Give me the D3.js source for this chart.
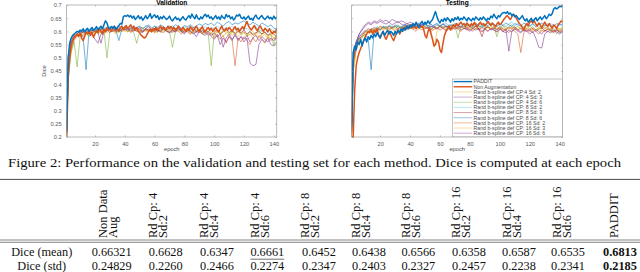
<!DOCTYPE html>
<html><head><meta charset="utf-8">
<script src="https://cdn.jsdelivr.net/npm/d3@7/dist/d3.min.js"></script>
<style>body{margin:0;background:#fff}svg{display:block}</style>
</head><body>
<svg id="c" width="640" height="272"></svg>
<script>
// ---------- DATA ----------
const epochs = d3.range(1, 143);
const thinEpochs = [1].concat(d3.range(2, 143, 2));
const xTicks = [20, 40, 60, 80, 100, 120, 140];
const yTicks = [0.2, 0.25, 0.3, 0.35, 0.4, 0.45, 0.5, 0.55, 0.6, 0.65, 0.7];
const yTickLabels = ["0.2","0.25","0.3","0.35","0.4","0.45","0.5","0.55","0.6","0.65","0.7"];
const legendNames = ["PADDIT","Non Augmentation","Rand b-spline def  CP:4 Sd: 2","Rand b-spline def CP: 4 Sd: 3","Rand b-spline def CP: 4 Sd: 6","Rand b-spline def CP: 8 Sd: 2","Rand b-spline def CP: 8 Sd: 3","Rand b-spline def CP: 8 Sd: 6","Rand b-spline def CP: 16 Sd: 2","Rand b-spline def CP: 16 Sd: 3","Rand b-spline def CP: 16 Sd: 6"];
const seriesColors = ["#0072BD","#D95319","#EDB120","#7E2F8E","#77AC30","#4DBEEE","#A2142F","#0072BD","#D95319","#EDB120","#7E2F8E"];

const valPADDIT = [0.22,0.50,0.555,0.575,0.585,0.59,0.595,0.60,0.598,0.605,
0.60,0.61,0.598,0.605,0.612,0.60,0.608,0.615,0.603,0.61,
0.618,0.606,0.613,0.62,0.61,0.625,0.64,0.632,0.615,0.61,
0.618,0.612,0.62,0.608,0.615,0.622,0.63,0.628,0.655,0.66,
0.657,0.662,0.655,0.66,0.65,0.658,0.645,0.652,0.66,0.648,
0.655,0.642,0.65,0.66,0.648,0.655,0.668,0.65,0.657,0.663,
0.652,0.66,0.645,0.655,0.648,0.658,0.652,0.645,0.65,0.658,
0.645,0.64,0.648,0.655,0.645,0.65,0.64,0.648,0.656,0.647,
0.643,0.652,0.66,0.65,0.666,0.655,0.648,0.663,0.65,0.645,
0.655,0.648,0.658,0.665,0.655,0.662,0.65,0.655,0.645,0.652,
0.66,0.648,0.655,0.645,0.66,0.652,0.648,0.664,0.655,0.66,
0.648,0.655,0.643,0.65,0.662,0.658,0.665,0.652,0.648,0.655,
0.645,0.652,0.658,0.645,0.65,0.642,0.655,0.662,0.65,0.647,
0.655,0.66,0.65,0.645,0.652,0.658,0.648,0.653,0.645,0.658,
0.648,0.655];
const valNonAug = [0.20,0.42,0.50,0.55,0.57,0.58,0.585,0.59,0.58,0.595,
0.575,0.565,0.58,0.598,0.59,0.60,0.585,0.598,0.578,0.59,
0.605,0.595,0.61,0.60,0.59,0.61,0.598,0.615,0.605,0.612,
0.60,0.61,0.618,0.605,0.612,0.60,0.615,0.62,0.608,0.615,
0.622,0.61,0.618,0.625,0.612,0.62,0.605,0.615,0.60,0.595,
0.585,0.58,0.575,0.578,0.59,0.60,0.608,0.598,0.61,0.603,
0.615,0.605,0.612,0.62,0.608,0.615,0.605,0.612,0.62,0.61,
0.618,0.608,0.615,0.605,0.612,0.62,0.61,0.605,0.615,0.608,
0.60,0.612,0.605,0.618,0.61,0.602,0.612,0.62,0.608,0.60,
0.61,0.618,0.605,0.598,0.61,0.615,0.605,0.612,0.60,0.608,
0.615,0.605,0.598,0.61,0.62,0.608,0.602,0.612,0.605,0.615,
0.608,0.60,0.61,0.618,0.605,0.612,0.60,0.61,0.618,0.608,
0.625,0.638,0.62,0.612,0.605,0.615,0.622,0.61,0.602,0.615,
0.62,0.608,0.60,0.612,0.605,0.598,0.61,0.60,0.592,0.60,
0.595,0.612];
const valCP4Sd2 = [0.21,0.46,0.56,0.58,0.59,0.595,0.585,0.6,0.59,0.605,0.595,0.61,
0.6,0.59,0.605,0.612,0.6,0.608,0.595,0.61,0.605,0.615,0.6,0.61,
0.598,0.608,0.615,0.6,0.612,0.605,0.595,0.61,0.6,0.615,0.605,0.598,
0.61,0.602,0.612,0.595,0.605,0.6,0.59,0.608,0.598,0.605,0.592,0.6,
0.61,0.595,0.585,0.6,0.59,0.605,0.595,0.58,0.598,0.59,0.6,0.585,
0.595,0.58,0.59,0.6,0.585,0.575,0.59,0.598,0.58,0.59,0.575,0.585];
const valCP4Sd3 = [0.23,0.44,0.53,0.57,0.585,0.59,0.6,0.595,0.605,0.59,0.57,0.555,
0.59,0.605,0.6,0.612,0.598,0.61,0.62,0.605,0.61,0.6,0.615,0.605,
0.61,0.6,0.595,0.61,0.605,0.6,0.612,0.598,0.605,0.61,0.6,0.595,
0.605,0.598,0.61,0.6,0.59,0.605,0.6,0.595,0.58,0.6,0.59,0.585,
0.595,0.58,0.57,0.585,0.55,0.575,0.56,0.58,0.565,0.59,0.57,0.58,
0.56,0.575,0.48,0.47,0.475,0.55,0.57,0.56,0.575,0.55,0.545,0.56];
const valCP4Sd6 = [0.2,0.42,0.52,0.56,0.465,0.58,0.59,0.595,0.58,0.6,0.59,0.6,
0.595,0.605,0.5,0.6,0.61,0.595,0.605,0.6,0.612,0.598,0.605,0.595,
0.555,0.6,0.605,0.61,0.598,0.605,0.6,0.61,0.595,0.605,0.6,0.598,
0.54,0.6,0.605,0.598,0.61,0.6,0.605,0.595,0.6,0.608,0.598,0.6,
0.59,0.47,0.595,0.6,0.59,0.598,0.605,0.59,0.6,0.595,0.605,0.59,
0.598,0.585,0.6,0.59,0.595,0.605,0.59,0.598,0.585,0.59,0.545,0.6];
const valCP8Sd2 = [0.24,0.5,0.56,0.585,0.595,0.6,0.605,0.61,0.6,0.612,0.605,0.615,
0.608,0.618,0.61,0.62,0.612,0.605,0.618,0.61,0.622,0.615,0.608,0.62,
0.612,0.618,0.61,0.622,0.615,0.608,0.62,0.612,0.618,0.61,0.605,0.615,
0.62,0.61,0.615,0.608,0.618,0.612,0.62,0.61,0.605,0.615,0.61,0.618,
0.608,0.615,0.61,0.62,0.612,0.605,0.615,0.61,0.62,0.608,0.612,0.605,
0.615,0.61,0.605,0.612,0.618,0.608,0.6,0.612,0.605,0.61,0.6,0.608];
const valCP8Sd3 = [0.22,0.47,0.55,0.575,0.59,0.585,0.6,0.595,0.59,0.605,0.6,0.595,
0.61,0.6,0.605,0.595,0.61,0.615,0.6,0.608,0.615,0.605,0.61,0.6,
0.615,0.605,0.598,0.61,0.62,0.605,0.612,0.6,0.61,0.618,0.605,0.612,
0.6,0.61,0.615,0.605,0.598,0.61,0.605,0.615,0.6,0.608,0.595,0.605,
0.598,0.61,0.6,0.605,0.59,0.6,0.61,0.595,0.605,0.59,0.6,0.595,
0.605,0.59,0.6,0.585,0.595,0.6,0.59,0.598,0.585,0.595,0.59,0.58];
const valCP8Sd6 = [0.25,0.51,0.57,0.59,0.6,0.595,0.58,0.455,0.6,0.605,0.61,0.6,
0.612,0.605,0.615,0.61,0.62,0.605,0.565,0.61,0.618,0.612,0.62,0.61,
0.615,0.62,0.61,0.618,0.625,0.612,0.62,0.615,0.625,0.618,0.61,0.62,
0.615,0.625,0.62,0.612,0.622,0.618,0.625,0.615,0.62,0.628,0.622,0.63,
0.625,0.632,0.622,0.635,0.628,0.62,0.632,0.638,0.625,0.632,0.628,0.635,
0.64,0.63,0.625,0.635,0.628,0.62,0.632,0.625,0.618,0.625,0.612,0.608];
const valCP16Sd2 = [0.21,0.45,0.54,0.57,0.585,0.59,0.58,0.595,0.6,0.59,0.605,0.598,
0.605,0.595,0.61,0.6,0.605,0.598,0.61,0.6,0.605,0.61,0.595,0.605,
0.6,0.61,0.598,0.605,0.6,0.61,0.595,0.605,0.6,0.595,0.608,0.6,
0.595,0.605,0.6,0.59,0.605,0.598,0.59,0.6,0.595,0.605,0.59,0.6,
0.585,0.595,0.575,0.59,0.57,0.585,0.555,0.58,0.57,0.47,0.575,0.56,
0.58,0.565,0.55,0.575,0.56,0.585,0.57,0.555,0.58,0.565,0.575,0.57];
const valCP16Sd3 = [0.2,0.43,0.53,0.565,0.58,0.59,0.595,0.585,0.6,0.595,0.605,0.59,
0.6,0.61,0.595,0.605,0.6,0.59,0.605,0.61,0.6,0.598,0.605,0.612,
0.6,0.608,0.615,0.6,0.605,0.612,0.6,0.595,0.608,0.6,0.612,0.605,
0.598,0.61,0.6,0.605,0.612,0.6,0.595,0.605,0.61,0.6,0.595,0.605,
0.6,0.59,0.605,0.595,0.6,0.58,0.595,0.6,0.585,0.595,0.58,0.59,
0.6,0.585,0.59,0.575,0.59,0.595,0.58,0.59,0.57,0.585,0.59,0.575];
const valCP16Sd6 = [0.22,0.48,0.555,0.58,0.59,0.6,0.595,0.605,0.6,0.61,0.6,0.595,
0.555,0.6,0.612,0.605,0.615,0.6,0.61,0.618,0.605,0.612,0.6,0.61,
0.605,0.615,0.6,0.61,0.605,0.598,0.612,0.605,0.6,0.61,0.602,0.595,
0.605,0.598,0.61,0.6,0.595,0.605,0.598,0.59,0.6,0.595,0.605,0.59,
0.6,0.585,0.595,0.58,0.59,0.54,0.575,0.59,0.57,0.585,0.565,0.58,
0.57,0.585,0.56,0.575,0.585,0.565,0.58,0.57,0.56,0.575,0.565,0.58];

const testPADDIT = [0.24,0.52,0.545,0.53,0.56,0.55,0.57,0.545,0.565,0.575,
0.56,0.58,0.57,0.585,0.575,0.59,0.58,0.595,0.585,0.575,
0.59,0.60,0.585,0.595,0.605,0.59,0.60,0.595,0.585,0.60,
0.59,0.605,0.595,0.61,0.60,0.615,0.605,0.62,0.61,0.625,
0.615,0.63,0.62,0.635,0.625,0.615,0.63,0.638,0.625,0.635,
0.628,0.64,0.63,0.638,0.645,0.66,0.675,0.655,0.64,0.632,
0.645,0.638,0.65,0.64,0.652,0.645,0.635,0.648,0.64,0.652,
0.645,0.655,0.642,0.65,0.645,0.655,0.648,0.64,0.652,0.645,
0.64,0.65,0.643,0.655,0.648,0.642,0.652,0.645,0.655,0.648,
0.64,0.65,0.645,0.658,0.652,0.665,0.655,0.648,0.66,0.655,
0.665,0.67,0.672,0.668,0.675,0.665,0.67,0.66,0.665,0.655,
0.66,0.652,0.645,0.652,0.66,0.648,0.64,0.648,0.635,0.642,
0.65,0.638,0.645,0.652,0.64,0.648,0.655,0.645,0.652,0.66,
0.648,0.655,0.665,0.66,0.668,0.685,0.69,0.685,0.69,0.695,
0.693,0.70];
const testNonAug = [0.20,0.20,0.38,0.47,0.50,0.52,0.535,0.55,0.565,0.58,
0.59,0.60,0.595,0.605,0.59,0.605,0.595,0.61,0.585,0.575,
0.59,0.60,0.58,0.57,0.585,0.60,0.59,0.575,0.565,0.58,
0.595,0.605,0.59,0.60,0.612,0.605,0.618,0.61,0.62,0.612,
0.625,0.615,0.622,0.61,0.618,0.625,0.615,0.62,0.61,0.585,
0.575,0.60,0.612,0.59,0.57,0.545,0.55,0.57,0.56,0.53,
0.52,0.555,0.585,0.60,0.61,0.62,0.605,0.615,0.625,0.618,
0.63,0.62,0.628,0.635,0.625,0.63,0.62,0.632,0.625,0.618,
0.63,0.622,0.635,0.625,0.618,0.628,0.635,0.625,0.63,0.62,
0.628,0.638,0.63,0.622,0.632,0.625,0.618,0.628,0.635,0.625,
0.63,0.64,0.648,0.655,0.66,0.652,0.645,0.655,0.665,0.66,
0.65,0.64,0.63,0.625,0.615,0.605,0.62,0.63,0.622,0.635,
0.64,0.632,0.64,0.628,0.62,0.632,0.625,0.612,0.625,0.635,
0.625,0.618,0.63,0.62,0.612,0.625,0.618,0.61,0.625,0.632,
0.64,0.635];
const testCP4Sd2 = [0.2,0.45,0.53,0.56,0.575,0.59,0.6,0.595,0.61,0.6,0.615,0.605,
0.61,0.6,0.615,0.605,0.62,0.61,0.615,0.625,0.612,0.62,0.61,0.625,
0.615,0.62,0.61,0.6,0.54,0.6,0.612,0.62,0.61,0.618,0.625,0.612,
0.62,0.61,0.622,0.615,0.625,0.612,0.62,0.608,0.618,0.625,0.612,0.62,
0.61,0.618,0.605,0.615,0.62,0.61,0.618,0.605,0.612,0.62,0.608,0.615,
0.62,0.61,0.602,0.615,0.608,0.618,0.605,0.612,0.6,0.61,0.605,0.612];
const testCP4Sd3 = [0.22,0.5,0.56,0.59,0.61,0.625,0.635,0.63,0.64,0.635,0.645,0.638,
0.642,0.635,0.645,0.64,0.632,0.64,0.635,0.628,0.635,0.63,0.625,0.632,
0.625,0.63,0.62,0.628,0.615,0.625,0.618,0.63,0.622,0.615,0.625,0.618,
0.625,0.615,0.62,0.61,0.618,0.612,0.62,0.605,0.615,0.61,0.618,0.605,
0.612,0.605,0.615,0.6,0.61,0.525,0.6,0.612,0.605,0.598,0.61,0.6,
0.605,0.595,0.608,0.6,0.59,0.605,0.598,0.61,0.6,0.605,0.595,0.6];
const testCP4Sd6 = [0.21,0.46,0.54,0.57,0.585,0.6,0.595,0.61,0.6,0.615,0.605,0.62,
0.612,0.622,0.61,0.618,0.625,0.612,0.62,0.615,0.625,0.618,0.612,0.622,
0.615,0.625,0.618,0.61,0.62,0.612,0.625,0.615,0.622,0.61,0.618,0.625,
0.575,0.62,0.612,0.625,0.618,0.61,0.622,0.615,0.625,0.612,0.618,0.61,
0.62,0.58,0.615,0.622,0.61,0.618,0.625,0.612,0.62,0.608,0.615,0.622,
0.61,0.618,0.605,0.615,0.622,0.61,0.618,0.6,0.612,0.59,0.61,0.615];
const testCP8Sd2 = [0.23,0.5,0.56,0.585,0.595,0.605,0.6,0.612,0.605,0.618,0.61,0.62,
0.615,0.625,0.618,0.612,0.622,0.615,0.628,0.62,0.625,0.615,0.622,0.63,
0.62,0.628,0.615,0.625,0.62,0.63,0.618,0.625,0.632,0.62,0.628,0.622,
0.63,0.62,0.625,0.632,0.618,0.628,0.622,0.63,0.62,0.625,0.632,0.622,
0.628,0.62,0.632,0.625,0.618,0.628,0.635,0.622,0.63,0.625,0.618,0.628,
0.622,0.63,0.62,0.628,0.618,0.625,0.62,0.63,0.622,0.618,0.625,0.62];
const testCP8Sd3 = [0.22,0.48,0.55,0.58,0.59,0.6,0.61,0.605,0.615,0.608,0.62,0.612,
0.618,0.608,0.615,0.62,0.61,0.618,0.612,0.622,0.615,0.608,0.618,0.612,
0.62,0.61,0.615,0.605,0.618,0.61,0.62,0.612,0.605,0.615,0.61,0.618,
0.612,0.62,0.61,0.615,0.605,0.612,0.62,0.61,0.58,0.612,0.618,0.61,
0.615,0.608,0.618,0.61,0.605,0.615,0.61,0.618,0.605,0.612,0.6,0.61,
0.605,0.612,0.6,0.608,0.615,0.602,0.61,0.605,0.598,0.608,0.6,0.605];
const testCP8Sd6 = [0.25,0.52,0.56,0.575,0.58,0.59,0.57,0.455,0.6,0.61,0.605,0.618,
0.61,0.62,0.615,0.625,0.618,0.612,0.625,0.62,0.615,0.628,0.62,0.625,
0.618,0.628,0.622,0.615,0.625,0.63,0.62,0.628,0.615,0.625,0.62,0.63,
0.622,0.615,0.628,0.62,0.625,0.618,0.63,0.622,0.615,0.628,0.622,0.63,
0.625,0.618,0.628,0.622,0.632,0.625,0.618,0.63,0.625,0.62,0.632,0.625,
0.62,0.628,0.618,0.625,0.632,0.62,0.628,0.622,0.618,0.63,0.625,0.628];
const testCP16Sd2 = [0.21,0.47,0.54,0.57,0.585,0.6,0.595,0.61,0.6,0.612,0.605,0.615,
0.608,0.618,0.61,0.6,0.612,0.605,0.615,0.608,0.618,0.61,0.6,0.612,
0.605,0.615,0.61,0.6,0.608,0.615,0.605,0.612,0.6,0.61,0.605,0.615,
0.608,0.6,0.612,0.605,0.61,0.6,0.612,0.605,0.598,0.61,0.602,0.612,
0.605,0.598,0.61,0.6,0.605,0.595,0.608,0.6,0.59,0.52,0.595,0.605,
0.598,0.608,0.6,0.59,0.605,0.598,0.61,0.6,0.595,0.605,0.598,0.61];
const testCP16Sd3 = [0.2,0.44,0.53,0.565,0.58,0.595,0.605,0.6,0.612,0.605,0.62,0.61,
0.615,0.608,0.62,0.612,0.605,0.618,0.61,0.62,0.615,0.608,0.618,0.612,
0.62,0.61,0.618,0.612,0.605,0.615,0.62,0.61,0.618,0.612,0.622,0.615,
0.61,0.618,0.612,0.62,0.608,0.615,0.61,0.618,0.612,0.605,0.615,0.61,
0.618,0.61,0.615,0.605,0.612,0.608,0.615,0.61,0.605,0.612,0.618,0.608,
0.612,0.605,0.615,0.608,0.6,0.612,0.605,0.61,0.6,0.608,0.612,0.605];
const testCP16Sd6 = [0.22,0.49,0.56,0.59,0.605,0.62,0.63,0.625,0.635,0.63,0.638,0.632,
0.628,0.635,0.625,0.632,0.638,0.628,0.622,0.63,0.62,0.628,0.622,0.615,
0.625,0.618,0.612,0.62,0.615,0.608,0.618,0.612,0.62,0.61,0.615,0.608,
0.615,0.605,0.612,0.608,0.6,0.61,0.605,0.612,0.6,0.608,0.6,0.61,
0.605,0.598,0.61,0.6,0.595,0.605,0.598,0.61,0.6,0.595,0.605,0.6,
0.59,0.6,0.575,0.54,0.537,0.59,0.6,0.595,0.605,0.598,0.59,0.6];

const tableHeader = [["Non Data","Aug"],["Rd Cp: 4","Sd:2"],["Rd Cp: 4","Sd:4"],["Rd Cp: 4","Sd:6"],["Rd Cp: 8","Sd:2"],["Rd Cp: 8","Sd:4"],["Rd Cp: 8","Sd:6"],["Rd Cp: 16","Sd:2"],["Rd Cp: 16","Sd:4"],["Rd Cp: 16","Sd:6"],["PADDIT"]];
const rowLabels = ["Dice (mean)","Dice (std)"];
const diceMean = ["0.66321","0.6628","0.6347","0.6661","0.6452","0.6438","0.6566","0.6358","0.6587","0.6535","0.6813"];
const diceStd = ["0.24829","0.2260","0.2466","0.2274","0.2347","0.2403","0.2327","0.2457","0.2238","0.2341","0.2185"];
const captionText = "Figure 2: Performance on the validation and testing set for each method. Dice is computed at each epoch";

// ---------- DRAW ----------
const svg = d3.select('#c');
svg.append('rect').attr('width',640).attr('height',272).attr('fill','#fff');

const valThin = [valCP4Sd2,valCP4Sd3,valCP4Sd6,valCP8Sd2,valCP8Sd3,valCP8Sd6,valCP16Sd2,valCP16Sd3,valCP16Sd6];
const testThin = [testCP4Sd2,testCP4Sd3,testCP4Sd6,testCP8Sd2,testCP8Sd3,testCP8Sd6,testCP16Sd2,testCP16Sd3,testCP16Sd6];

const SANS = "'Liberation Sans', Arial, sans-serif";
const SERIF = "'Liberation Serif', 'Times New Roman', serif";

function chart(o) {
  const x = d3.scaleLinear().domain([1, 142]).range([o.x0, o.x1]);
  const y = d3.scaleLinear().domain([0.2, 0.7]).range([137, 5]);
  const g = svg.append('g');
  const cid = 'clip' + o.id;
  g.append('clipPath').attr('id', cid).append('rect')
    .attr('x', o.x0).attr('y', 4).attr('width', o.x1 - o.x0).attr('height', 134);

  const line = d3.line().x(d => x(d[0])).y(d => y(d[1]));
  const lines = g.append('g').attr('clip-path', `url(#${cid})`);
  o.thin.forEach((vals, i) => {
    lines.append('path').datum(vals.map((v, j) => [thinEpochs[j], v]))
      .attr('d', line).attr('fill', 'none')
      .attr('stroke', seriesColors[i + 2]).attr('stroke-opacity', 0.7)
      .attr('stroke-width', 0.8).attr('stroke-linejoin', 'round');
  });
  lines.append('path').datum(o.nonaug.map((v, j) => [epochs[j], v]))
    .attr('d', line).attr('fill', 'none').attr('stroke', seriesColors[1])
    .attr('stroke-width', 1.5).attr('stroke-linejoin', 'round');
  lines.append('path').datum(o.paddit.map((v, j) => [epochs[j], v]))
    .attr('d', line).attr('fill', 'none').attr('stroke', seriesColors[0])
    .attr('stroke-width', 1.5).attr('stroke-linejoin', 'round');

  // box
  g.append('rect').attr('x', o.x0).attr('y', 5).attr('width', o.x1 - o.x0).attr('height', 132)
    .attr('fill', 'none').attr('stroke', '#8c8c8c').attr('stroke-width', 0.6);

  const styleAxis = sel => {
    sel.select('.domain').remove();
    sel.selectAll('line').attr('stroke', '#8c8c8c').attr('stroke-width', 0.5);
    sel.attr('font-family', SANS).attr('font-size', 5.7);
    sel.selectAll('text').attr('fill', '#5a5a5a');
  };
  g.append('g').attr('transform', 'translate(0,137)')
    .call(d3.axisBottom(x).tickValues(xTicks).tickFormat(d => String(d)).tickSize(-1.6).tickPadding(4.5))
    .call(styleAxis);
  g.append('g').attr('transform', 'translate(0,5)')
    .call(d3.axisTop(x).tickValues(xTicks).tickFormat('').tickSize(-1.6))
    .call(styleAxis);
  g.append('g').attr('transform', `translate(${o.x0},0)`)
    .call(d3.axisLeft(y).tickValues(yTicks).tickFormat((d, i) => o.yLabels ? yTickLabels[i] : '').tickSize(-1.6).tickPadding(5))
    .call(styleAxis);
  g.append('g').attr('transform', `translate(${o.x1},0)`)
    .call(d3.axisRight(y).tickValues(yTicks).tickFormat('').tickSize(-1.6))
    .call(styleAxis);

  g.append('text').attr('x', (o.x0 + o.x1) / 2).attr('y', 5.0).attr('text-anchor', 'middle')
    .attr('font-family', SANS).attr('font-weight', 'bold').attr('font-size', 6.6).attr('fill', '#000')
    .text(o.title);
  g.append('text').attr('x', (o.x0 + o.x1) / 2).attr('y', 150.5).attr('text-anchor', 'middle')
    .attr('font-family', SANS).attr('font-size', 5.7).attr('fill', '#4a4a4a').text('epoch');
  if (o.yLabels) {
    g.append('text').attr('transform', `translate(${o.x0 - 20.5},71) rotate(-90)`).attr('text-anchor', 'middle')
      .attr('font-family', SANS).attr('font-size', 5.7).attr('fill', '#4a4a4a').text('Dice');
  }
  return {x, y, g};
}

chart({id: 'v', x0: 66.7, x1: 276.8, title: 'Validation', yLabels: true, paddit: valPADDIT, nonaug: valNonAug, thin: valThin});
chart({id: 't', x0: 351.7, x1: 562.7, title: 'Testing', yLabels: false, paddit: testPADDIT, nonaug: testNonAug, thin: testThin});

// legend
const lg = svg.append('g');
lg.append('rect').attr('x', 452.5).attr('y', 79).attr('width', 110).attr('height', 57.8)
  .attr('fill', '#fff').attr('stroke', '#8c8c8c').attr('stroke-width', 0.5);
const ly = d3.scalePoint().domain(legendNames).range([81.6, 133.2]);
legendNames.forEach((n, i) => {
  lg.append('line').attr('x1', 453.6).attr('x2', 472.2).attr('y1', ly(n)).attr('y2', ly(n))
    .attr('stroke', seriesColors[i]).attr('stroke-width', i < 2 ? 1.4 : 0.9)
    .attr('stroke-opacity', i < 2 ? 1 : 0.45);
  lg.append('text').attr('x', 473.6).attr('y', ly(n) + 1.8).attr('font-family', SANS)
    .attr('font-size', 5.2).attr('fill', '#4a4a4a').text(n);
});

// caption
svg.append('text').attr('x', 8).attr('y', 166.5).attr('font-family', SERIF).attr('font-size', 12.4)
  .attr('fill', '#111').attr('textLength', 613).attr('lengthAdjust', 'spacingAndGlyphs').text(captionText);

// table
const T = svg.append('g');
T.append('line').attr('x1', 0).attr('x2', 640).attr('y1', 179.4).attr('y2', 179.4).attr('stroke', '#333').attr('stroke-width', 0.9);
T.append('line').attr('x1', 0).attr('x2', 640).attr('y1', 240).attr('y2', 240).attr('stroke', '#333').attr('stroke-width', 0.6);
T.append('line').attr('x1', 0).attr('x2', 640).attr('y1', 242.3).attr('y2', 242.3).attr('stroke', '#333').attr('stroke-width', 0.6);

const valueCenters = [111.7, 165.7, 217, 267.3, 319, 369, 418.3, 469, 519, 568, 620];
const headBase = [106.5, 157, 208, 258.5, 309, 359.5, 410, 460, 510.5, 560.5, 617.5];
tableHeader.forEach((lines, c) => {
  lines.forEach((t, k) => {
    T.append('text').attr('transform', `translate(${headBase[c] + k * 10},238) rotate(-90)`)
      .attr('font-family', SERIF).attr('font-size', 12.5).attr('fill', '#111').text(t);
  });
});
const rowBase = [256, 269.5];
rowLabels.forEach((t, r) => {
  T.append('text').attr('x', 41.7).attr('y', rowBase[r]).attr('text-anchor', 'middle')
    .attr('font-family', SERIF).attr('font-size', 12.3).attr('fill', '#111').text(t);
});
[diceMean, diceStd].forEach((row, r) => {
  row.forEach((v, c) => {
    const last = c === row.length - 1;
    const t = T.append('text').attr('x', valueCenters[c]).attr('y', rowBase[r]).attr('text-anchor', 'middle')
      .attr('font-family', SERIF).attr('font-size', 12.3).attr('fill', '#111')
      .attr('font-weight', last ? 'bold' : 'normal').text(v);
    if (r === 0 && c === 3) {
      const bb = t.node().getBBox();
      T.append('line').attr('x1', bb.x).attr('x2', bb.x + bb.width).attr('y1', 259.2).attr('y2', 259.2)
        .attr('stroke', '#111').attr('stroke-width', 0.6);
    }
  });
});
</script>
</body></html>
